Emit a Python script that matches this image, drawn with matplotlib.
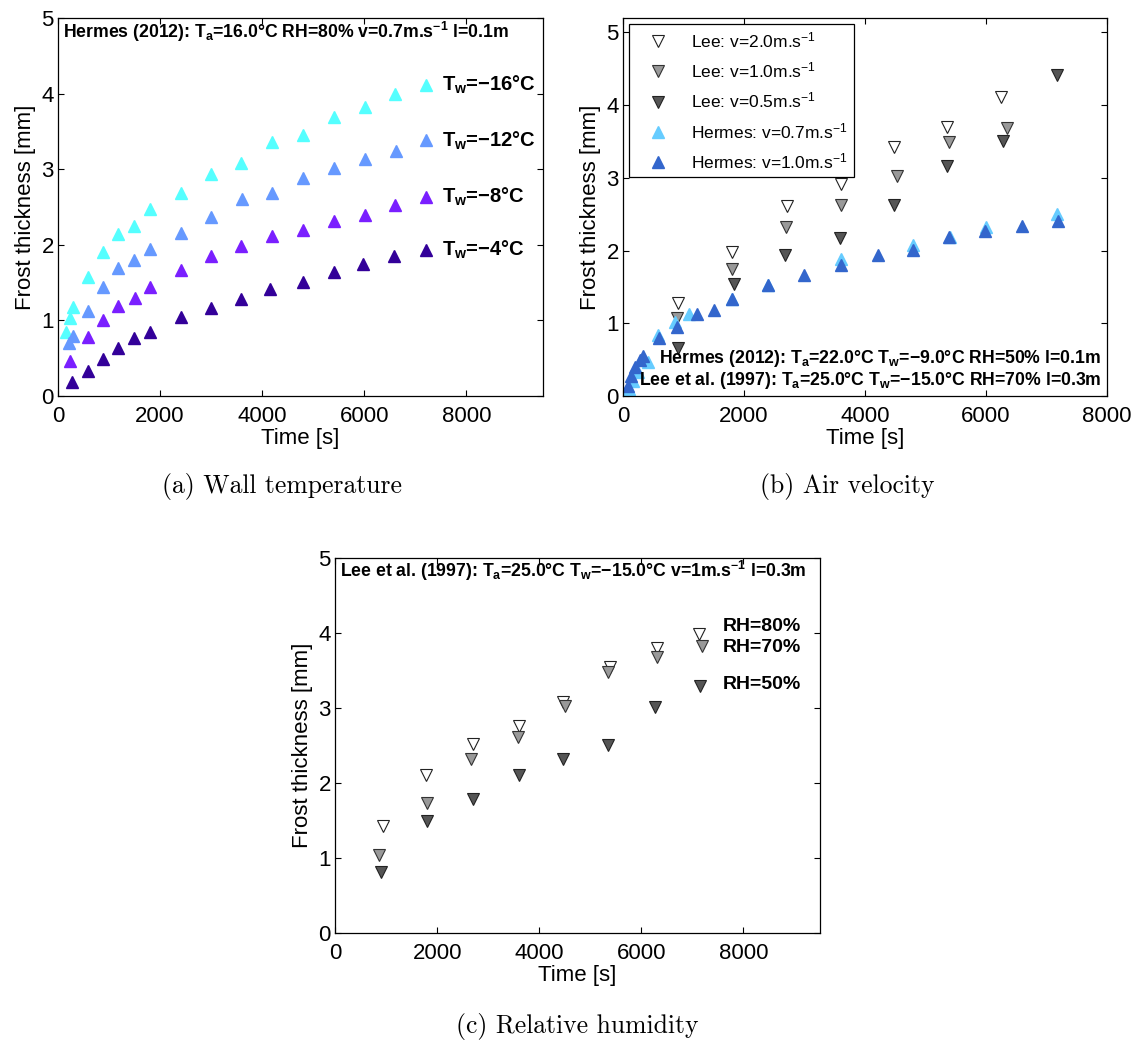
import numpy as np
import matplotlib
matplotlib.use("Agg")
import matplotlib.pyplot as plt

plt.rcParams['font.family'] = ['Liberation Sans', 'DejaVu Sans']
plt.rcParams['mathtext.default'] = 'regular'

# ---- (a) wall temperature, Hermes (2012)
t_m16 = [150, 235, 285, 590, 890, 1185, 1490, 1800, 2400, 2995, 3590, 4190, 4795, 5410, 6005, 6610]
d_m16 = [0.84, 1.03, 1.17, 1.57, 1.90, 2.14, 2.25, 2.47, 2.69, 2.94, 3.08, 3.36, 3.45, 3.69, 3.82, 3.99]
t_m12 = [225, 290, 595, 890, 1185, 1485, 1800, 2400, 3005, 3605, 4200, 4795, 5410, 6005, 6625]
d_m12 = [0.70, 0.79, 1.12, 1.44, 1.69, 1.80, 1.95, 2.16, 2.37, 2.61, 2.68, 2.88, 3.02, 3.13, 3.24]
t_m8 = [235, 595, 890, 1185, 1500, 1800, 2405, 2995, 3590, 4190, 4795, 5410, 6005, 6610]
d_m8 = [0.46, 0.78, 1.01, 1.19, 1.29, 1.44, 1.66, 1.85, 1.98, 2.11, 2.20, 2.32, 2.39, 2.52]
t_m4 = [268, 595, 890, 1185, 1485, 1800, 2405, 3005, 3575, 4160, 4800, 5410, 5975, 6575]
d_m4 = [0.18, 0.33, 0.49, 0.63, 0.76, 0.85, 1.04, 1.16, 1.28, 1.42, 1.51, 1.64, 1.75, 1.85]
# marker drawn beside each label
lab_t = 7200
lab_a = [4.11, 3.38, 2.63, 1.93]
lab_a_txt = [r'$T_w$=$-$16°C', r'$T_w$=$-$12°C', r'$T_w$=$-$8°C', r'$T_w$=$-$4°C']
col_a = ['#55FFFF', '#6699FF', '#7A1FFF', '#330099']

# ---- (b) air velocity
t_lee20 = [905, 1800, 2715, 3600, 4480, 5360, 6245]
d_lee20 = [1.28, 1.98, 2.61, 2.91, 3.43, 3.70, 4.11]
t_lee10 = [885, 1800, 2690, 3610, 4535, 5385, 6350]
d_lee10 = [1.07, 1.74, 2.33, 2.62, 3.02, 3.49, 3.68]
t_lee05 = [905, 1830, 2680, 3595, 4475, 5355, 6275, 7170]
d_lee05 = [0.66, 1.54, 1.94, 2.17, 2.63, 3.17, 3.51, 4.42]
t_her07 = [100, 160, 240, 410, 585, 860, 1090, 1800, 2400, 3610, 4800, 5400, 6000, 7175]
d_her07 = [0.10, 0.20, 0.33, 0.47, 0.84, 1.02, 1.13, 1.33, 1.52, 1.88, 2.08, 2.18, 2.33, 2.50]
t_her10 = [80, 140, 200, 280, 335, 600, 895, 1220, 1505, 1800, 2390, 3000, 3610, 4210, 4800, 5395, 5990, 6600, 7195]
d_her10 = [0.14, 0.27, 0.40, 0.49, 0.55, 0.80, 0.95, 1.13, 1.18, 1.34, 1.53, 1.67, 1.80, 1.94, 2.01, 2.18, 2.27, 2.34, 2.40]

# ---- (c) relative humidity, Lee et al. (1997)
t_rh80 = [935, 1780, 2705, 3595, 4470, 5380, 6300, 7125]
d_rh80 = [1.43, 2.11, 2.52, 2.76, 3.08, 3.55, 3.80, 3.99]
t_rh70 = [855, 1800, 2660, 3585, 4495, 5345, 6315, 7180]
d_rh70 = [1.04, 1.73, 2.32, 2.61, 3.02, 3.48, 3.68, 3.83]
t_rh50 = [905, 1800, 2705, 3595, 4465, 5345, 6270, 7145]
d_rh50 = [0.81, 1.50, 1.79, 2.11, 2.32, 2.51, 3.01, 3.29]
lab_c_txt = ['RH=80%', 'RH=70%', 'RH=50%']
lab_c_y = [4.08, 3.80, 3.31]

FS = 16
ANN = 12.7


def style(ax, xmax, ymax):
    ax.set_xlim(0, xmax)
    ax.set_ylim(0, ymax)
    ax.set_xticks([0, 2000, 4000, 6000, 8000])
    ax.set_yticks([0, 1, 2, 3, 4, 5])
    ax.tick_params(direction='in', top=True, right=True, labelsize=FS, length=4, width=0.8)
    ax.tick_params(axis='x', pad=7)
    ax.tick_params(axis='y', pad=3)
    ax.set_xlabel('Time [s]', fontsize=FS, labelpad=1)
    ax.set_ylabel('Frost thickness [mm]', fontsize=FS, labelpad=4)
    for s in ax.spines.values():
        s.set_linewidth(0.9)


fig = plt.figure(figsize=(11.35, 10.42), dpi=100)
axa = fig.add_axes([0.0511, 0.6200, 0.4273, 0.3628])
axb = fig.add_axes([0.5489, 0.6200, 0.4264, 0.3628])
axc = fig.add_axes([0.2952, 0.1046, 0.4273, 0.3599])

# (a)
for t, d, c in zip([t_m16, t_m12, t_m8, t_m4], [d_m16, d_m12, d_m8, d_m4], col_a):
    axa.plot(t, d, '^', ms=8, color=c, mec=c, ls='none')
for y, txt, c in zip(lab_a, lab_a_txt, col_a):
    axa.plot([lab_t], [y], '^', ms=8, color=c, mec=c)
    axa.text(7530, y, txt, fontsize=14.5, fontweight='bold', va='center', ha='left')
axa.text(0.01, 0.963, r'Hermes (2012): $T_a$=16.0°C RH=80% v=0.7m.s$^{-1}$ l=0.1m',
         transform=axa.transAxes, fontsize=ANN, fontweight='bold', va='center')
style(axa, 9500, 5)

# (b)
axb.plot(t_lee20, d_lee20, 'v', ms=8, mfc='white', mec='#222222', mew=0.8, ls='none',
         label=r'Lee: v=2.0m.s$^{-1}$')
axb.plot(t_lee10, d_lee10, 'v', ms=8, mfc='#999999', mec='#333333', mew=0.8, ls='none',
         label=r'Lee: v=1.0m.s$^{-1}$')
axb.plot(t_lee05, d_lee05, 'v', ms=8, mfc='#555555', mec='#222222', mew=0.8, ls='none',
         label=r'Lee: v=0.5m.s$^{-1}$')
axb.plot(t_her07, d_her07, '^', ms=8, color='#66CCFF', mec='#66CCFF', ls='none',
         label=r'Hermes: v=0.7m.s$^{-1}$')
axb.plot(t_her10, d_her10, '^', ms=8, color='#3366CC', mec='#3366CC', ls='none',
         label=r'Hermes: v=1.0m.s$^{-1}$')
leg = axb.legend(loc='upper left', fontsize=12.5, frameon=True, fancybox=False,
                 edgecolor='black', framealpha=1, borderaxespad=0.35, handletextpad=0.6,
                 labelspacing=0.6, borderpad=0.35, handlelength=2.6)
leg.get_frame().set_linewidth(0.9)
axb.text(0.988, 0.100, r'Hermes (2012): $T_a$=22.0°C $T_w$=$-$9.0°C RH=50% l=0.1m',
         transform=axb.transAxes, fontsize=ANN, fontweight='bold', ha='right', va='center')
axb.text(0.988, 0.040, r'Lee et al. (1997): $T_a$=25.0°C $T_w$=$-$15.0°C RH=70% l=0.3m',
         transform=axb.transAxes, fontsize=ANN, fontweight='bold', ha='right', va='center')
style(axb, 8000, 5.2)

# (c)
axc.plot(t_rh80, d_rh80, 'v', ms=8, mfc='white', mec='#222222', mew=0.8, ls='none')
axc.plot(t_rh70, d_rh70, 'v', ms=8, mfc='#999999', mec='#333333', mew=0.8, ls='none')
axc.plot(t_rh50, d_rh50, 'v', ms=8, mfc='#555555', mec='#222222', mew=0.8, ls='none')
for y, txt in zip(lab_c_y, lab_c_txt):
    axc.text(7600, y, txt, fontsize=14, fontweight='bold', va='center', ha='left')
axc.text(0.01, 0.966, r'Lee et al. (1997): $T_a$=25.0°C $T_w$=$-$15.0°C v=1m.s$^{-1}$ l=0.3m',
         transform=axc.transAxes, fontsize=ANN, fontweight='bold', va='center')
style(axc, 9500, 5)

# captions
fig.text(282 / 1135, 1 - 487 / 1042, '(a) Wall temperature', fontname='cmr10', fontsize=18.5,
         ha='center', va='center')
fig.text(847 / 1135, 1 - 487 / 1042, '(b) Air velocity', fontname='cmr10', fontsize=18.5,
         ha='center', va='center')
fig.text(577 / 1135, 1 - 1026 / 1042, '(c) Relative humidity', fontname='cmr10', fontsize=18.5,
         ha='center', va='center')

fig.savefig('out.png', dpi=100)
